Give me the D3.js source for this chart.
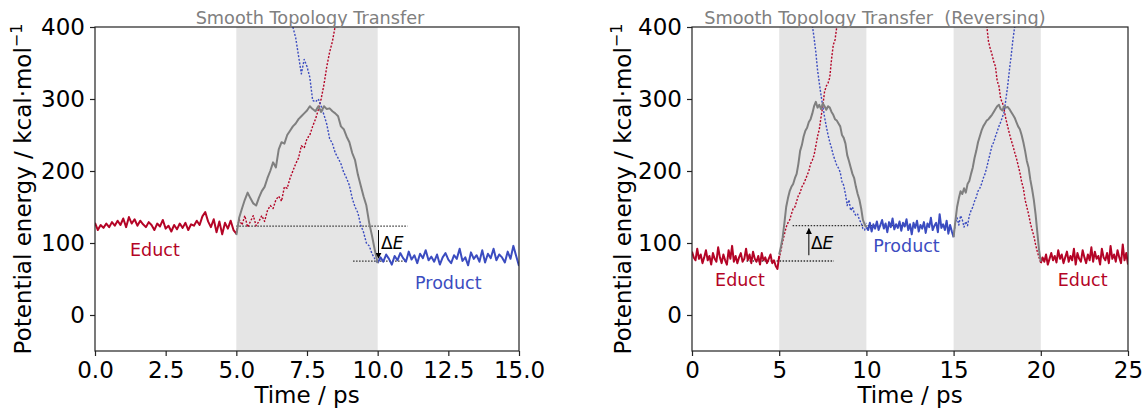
<!DOCTYPE html>
<meta charset="utf-8">
<style>
  body { margin: 0; background: #fff; }
  svg { font-family: "DejaVu Sans", sans-serif; }
  .domain { display: none; }
  .tick line { stroke: #222; stroke-width: 1.2; }
</style>
<body></body>
<script src="https://d3js.org/d3.v7.min.js"></script>
<script>
// sampling step of every series (ps)
var dt = 0.1;
var yTicks = [0, 100, 200, 300, 400];
var leftTicks = [0, 2.5, 5, 7.5, 10, 12.5, 15];
var rightTicks = [0, 5, 10, 15, 20, 25];

// ---- left: forward transfer (t0 given with each series below)
var leftEduct = [128,118,125,121,127,122,129,124,131,125,134, 122,136,127,133,124,131,126,122,129,
  125,118,127,123,132,120,124,116,125,119, 127,121,128,118,126,124,131,125,137,143,
  130,122,133,115,130,112,128,120,131,118, 113];
var leftGray = [111,135,148,160,170,162,155,152,163,172, 178,190,200,212,205,230,240,238,250,256,
  262,266,272,276,280,284,290,286,283,290, 282,290,286,287,283,280,276,262,258,248,
  240,225,215,195,180,165,152,128,110,90, 72];
var leftEductDot = [113,133,125,138,122,130,138,124,130,138, 130,145,152,148,160,165,158,178,176,190,
  200,210,218,235,232,245,250,262,272,285, 300,320,345,365,380,402];
var leftProductDot = [400,385,360,335,355,345,330,298,296,300, 290,278,265,245,238,225,218,210,198,190,
  180,162,150,142,125,115,100,96,85,78, 72];
var leftProduct = [72,80,74,84,78,70,82,76,86,79, 74,88,77,83,72,85,79,90,76,81,
  74,84,70,80,86,77,72,83,78,92, 75,80,69,87,78,83,74,90,73,85,
  79,92,76,84,80,73,88,78,96,82, 68];

// ---- right: transfer and back
var rightEduct1 = [88,80,76,92,78,84,72,80,90,76, 82,70,86,78,74,94,80,72,84,76,
  70,90,78,96,74,82,72,80,86,74, 78,92,76,84,72,88,78,74,82,70,
  86,76,80,72,78,84,72,76,68,64, 82];
var rightGray1 = [84,95,108,128,150,162,172,178,182,190, 196,210,228,236,248,256,260,268,272,280,
  290,296,288,292,286,294,290,285,290,288, 282,278,272,270,266,262,250,246,238,222,
  214,205,196,190,178,168,160,148,132,126, 122];
var rightEductDot1 = [78,90,102,112,122,128,132,140,148,150, 158,166,170,178,182,188,194,200,210,215,
  222,235,248,258,275,290,310,318,322,330, 355,375,382,400];
var rightProductDot1 = [402,385,365,340,322,305,290,275,262,250, 240,232,222,215,208,204,198,185,180,168,
  152,160,145,150,142,138,140,132,128,120, 118,128];
var rightProduct = [122,118,128,116,126,120,130,118,125,132, 120,127,115,129,122,134,119,126,121,130,
  117,128,123,133,118,126,112,128,121,131, 116,125,120,129,114,127,122,135,118,124,
  128,115,140,121,126,118,131,113,125,116, 108];
var rightGray2 = [108,130,150,162,172,168,176,170,182,186, 196,205,218,228,240,248,256,262,266,270,
  272,275,278,282,286,290,292,286,284,290, 288,289,286,282,278,274,268,262,258,250,
  240,228,214,205,188,175,160,140,115,90, 74];
var rightProductDot2 = [110,128,135,125,138,132,122,130,124,138, 145,150,158,164,172,176,182,190,196,205,
  215,225,235,240,248,255,262,268,275,282, 300,318,340,360,382,400];
var rightEductDot2 = [402,380,370,362,352,345,325,318,300,295, 285,272,262,252,243,235,226,218,208,198,
  185,176,160,150,140,128,118,110,98,88, 80,72];
var rightEduct2 = [72,80,74,84,70,78,86,76,82,73, 90,78,84,72,80,88,74,82,76,92,
  70,86,78,74,90,80,72,84,76,94, 74,88,78,82,70,92,80,76,86,72,
  96,78,84,74,90,80,72,98,76,86, 70];

var red = "#b40426", blue = "#3b4cc0", gray = "#7f7f7f";

var svg = d3.select("body").append("svg")
  .attr("width", 1143).attr("height", 408);

svg.append("defs").append("marker")
  .attr("id", "arr").attr("viewBox", "0 0 10 10")
  .attr("refX", 9).attr("refY", 5)
  .attr("markerWidth", 6).attr("markerHeight", 6)
  .attr("markerUnits", "userSpaceOnUse")
  .attr("orient", "auto")
  .append("path").attr("d", "M0,0L10,5L0,10z").attr("fill", "#000");

var plotTop = 27, plotBottom = 351;

function drawPanel(p, id) {
  var x = d3.scaleLinear().domain([0, p.xMax]).range([p.x0, p.x1]);
  var y = d3.scaleLinear().domain([-50, 400]).range([plotBottom, plotTop]);
  var g = svg.append("g");

  g.append("clipPath").attr("id", "clip" + id)
    .append("rect").attr("x", p.x0).attr("y", plotTop)
    .attr("width", p.x1 - p.x0).attr("height", plotBottom - plotTop);

  g.selectAll(".shade").data(p.shades).enter().append("rect")
    .attr("x", d => x(d[0])).attr("y", plotTop)
    .attr("width", d => x(d[1]) - x(d[0])).attr("height", plotBottom - plotTop)
    .attr("fill", "#e5e5e5");

  var line = d3.line().x(d => x(d[0])).y(d => y(d[1]));
  var plot = g.append("g").attr("clip-path", "url(#clip" + id + ")");

  // reference levels for dE
  plot.selectAll(".ref").data(p.refs).enter().append("line")
    .attr("x1", d => x(d[0])).attr("x2", d => x(d[1]))
    .attr("y1", d => y(d[2])).attr("y2", d => y(d[2]))
    .attr("stroke", "#333").attr("stroke-width", 1.3)
    .attr("stroke-dasharray", "1.5,1.5");

  p.series.forEach(function(s) {
    var pts = s.v.map((v, i) => [s.t0 + i * dt, v]);
    plot.append("path").datum(pts)
      .attr("d", line).attr("fill", "none")
      .attr("stroke", s.c)
      .attr("stroke-width", s.dot ? 1.4 : 2)
      .attr("stroke-dasharray", s.dot ? "2,1.6" : null)
      .attr("stroke-linejoin", "round");
  });

  // arrow
  g.append("line")
    .attr("x1", x(p.arrow[0])).attr("x2", x(p.arrow[0]))
    .attr("y1", y(p.arrow[1])).attr("y2", y(p.arrow[2]))
    .attr("stroke", "#000").attr("stroke-width", 1)
    .attr("marker-end", "url(#arr)");
  var de = g.append("text")
    .attr("x", x(p.deLabel[0])).attr("y", y(p.deLabel[1]))
    .attr("font-size", 17).attr("fill", "#000");
  de.append("tspan").text("Δ");
  de.append("tspan").attr("font-style", "italic").text("E");

  g.selectAll(".lab").data(p.labels).enter().append("text")
    .attr("x", d => x(d[1])).attr("y", d => y(d[2]))
    .attr("text-anchor", "middle").attr("dominant-baseline", "central")
    .attr("font-size", 17.5).attr("fill", d => d[3])
    .text(d => d[0]);

  var xa = g.append("g").attr("transform", "translate(0," + plotBottom + ")")
    .call(d3.axisBottom(x).tickValues(p.xTicks).tickFormat(p.fmt)
      .tickSize(5).tickPadding(6));
  var ya = g.append("g").attr("transform", "translate(" + p.x0 + ",0)")
    .call(d3.axisLeft(y).tickValues(yTicks).tickSize(5).tickPadding(5));
  [xa, ya].forEach(a => a.attr("font-family", null).attr("font-size", 23)
    .selectAll("text").attr("fill", "#000"));

  g.append("rect").attr("x", p.x0).attr("y", plotTop)
    .attr("width", p.x1 - p.x0).attr("height", plotBottom - plotTop)
    .attr("fill", "none").attr("stroke", "#222").attr("stroke-width", 1.2);

  g.append("text").attr("x", p.titleX).attr("y", 24)
    .attr("text-anchor", "middle").attr("font-size", 17.7)
    .attr("fill", "#808080").style("white-space", "pre")
    .text(p.title);

  g.append("text").attr("x", (p.x0 + p.x1) / 2).attr("y", 403)
    .attr("text-anchor", "middle").attr("font-size", 23)
    .text("Time / ps");

  var yl = g.append("text")
    .attr("transform", "translate(" + p.ylabX + "," + ((plotTop + plotBottom) / 2) + ") rotate(-90)")
    .attr("text-anchor", "middle").attr("font-size", 23);
  yl.append("tspan").text("Potential energy / kcal·mol");
  yl.append("tspan").attr("font-size", 16).attr("dy", -9).text("−1");
}

drawPanel({
  x0: 95, x1: 519, xMax: 15, xTicks: leftTicks, fmt: d3.format(".1f"),
  title: "Smooth Topology Transfer", titleX: 310, ylabX: 31,
  shades: [[5, 10]],
  refs: [[5, 11.06, 123.5], [9.13, 11.03, 74.7]],
  arrow: [10.03, 118, 79], deLabel: [10.12, 92],
  labels: [["Educt", 2.12, 90, red], ["Product", 12.5, 45, blue]],
  series: [
    {t0: 5, v: leftEductDot, c: red, dot: true},
    {t0: 7, v: leftProductDot, c: blue, dot: true},
    {t0: 0, v: leftEduct, c: red},
    {t0: 10, v: leftProduct, c: blue},
    {t0: 5, v: leftGray, c: gray}
  ]
}, 0);

drawPanel({
  x0: 692, x1: 1128, xMax: 25, xTicks: rightTicks, fmt: d3.format("d"),
  title: "Smooth Topology Transfer  (Reversing)", titleX: 875, ylabX: 631,
  shades: [[5, 10], [15, 20]],
  refs: [[3.13, 8.14, 75], [5.77, 12.5, 124]],
  arrow: [6.7, 83, 120], deLabel: [6.82, 92],
  labels: [["Educt", 2.75, 48, red], ["Product", 12.3, 96, blue], ["Educt", 22.4, 48, red]],
  series: [
    {t0: 5, v: rightEductDot1, c: red, dot: true},
    {t0: 6.9, v: rightProductDot1, c: blue, dot: true},
    {t0: 15, v: rightProductDot2, c: blue, dot: true},
    {t0: 16.9, v: rightEductDot2, c: red, dot: true},
    {t0: 0, v: rightEduct1, c: red},
    {t0: 10, v: rightProduct, c: blue},
    {t0: 20, v: rightEduct2, c: red},
    {t0: 5, v: rightGray1, c: gray},
    {t0: 15, v: rightGray2, c: gray}
  ]
}, 1);
</script>
